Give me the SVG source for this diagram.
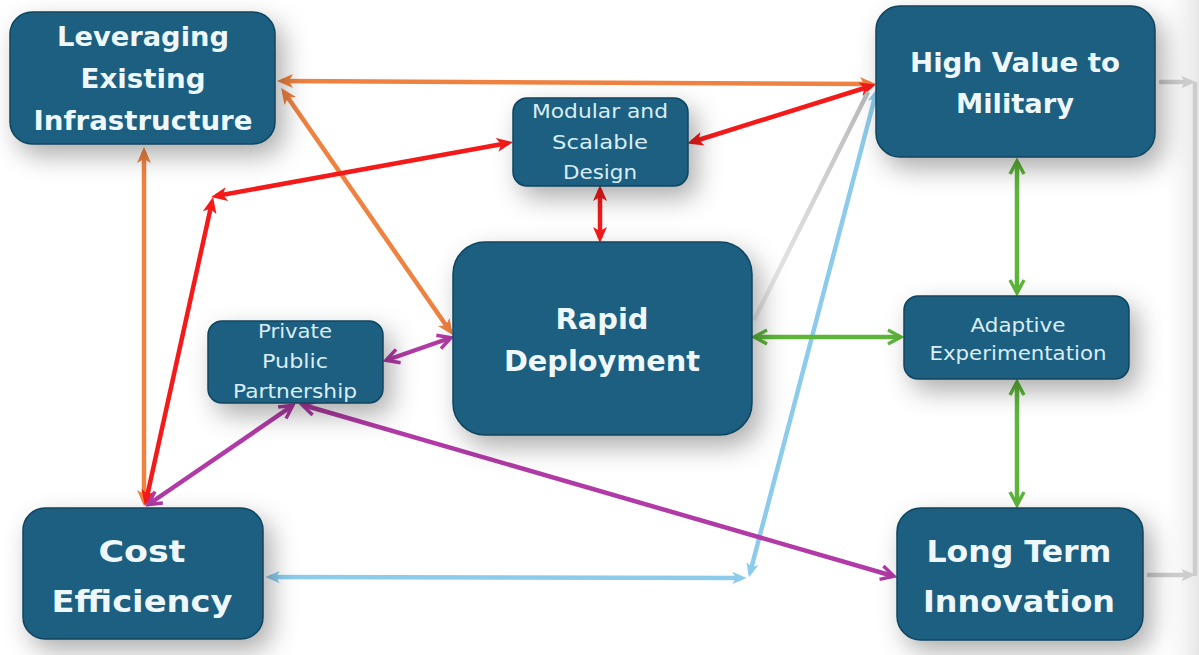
<svg xmlns="http://www.w3.org/2000/svg" width="1199" height="655" viewBox="0 0 1199 655">
<style>
.node rect{fill:#1a5e80;stroke:#11455f;stroke-width:1.5;filter:url(#sh)}
.bt{font-family:"DejaVu Sans","Liberation Sans",sans-serif;font-weight:bold;fill:#eef7fb;text-anchor:middle}
.rt{font-family:"DejaVu Sans","Liberation Sans",sans-serif;fill:#d9eef7;text-anchor:middle}
.c line,.c path{fill:none;stroke-width:4.5;stroke-linecap:butt}
.or{stroke:#ef8240}.rd{stroke:#f51a1a}.gr{stroke:#5db53a}.pu{stroke:#b13aa6}.bl{stroke:#8ccbeb}.gy{stroke:#cdcdcd}
</style>
<defs>
<filter id="sh" x="-40%" y="-40%" width="190%" height="200%"><feDropShadow dx="8" dy="11" stdDeviation="13" flood-color="#000" flood-opacity="0.32"/></filter>
<marker id="mOr" markerUnits="userSpaceOnUse" viewBox="0 0 16 16" refX="11" refY="8" markerWidth="16" markerHeight="16" orient="auto-start-reverse"><path d="M0,1 L16,8 L0,15 L4,8 z" fill="#ef8240"/></marker>
<marker id="mRd" markerUnits="userSpaceOnUse" viewBox="0 0 16 16" refX="11" refY="8" markerWidth="16" markerHeight="16" orient="auto-start-reverse"><path d="M0,1 L16,8 L0,15 L4,8 z" fill="#f51a1a"/></marker>
<marker id="mBl" markerUnits="userSpaceOnUse" viewBox="0 0 16 16" refX="11" refY="8" markerWidth="14" markerHeight="14" orient="auto-start-reverse"><path d="M0,1 L16,8 L0,15 L4,8 z" fill="#8ccbeb"/></marker>
<marker id="mGr" markerUnits="userSpaceOnUse" viewBox="0 0 18 18" refX="14" refY="9" markerWidth="18" markerHeight="18" orient="auto-start-reverse"><path d="M2,2 L15,9 L2,16" fill="none" stroke="#5db53a" stroke-width="3.5"/></marker>
<marker id="mPu" markerUnits="userSpaceOnUse" viewBox="0 0 18 18" refX="14" refY="9" markerWidth="18" markerHeight="18" orient="auto-start-reverse"><path d="M2,2 L15,9 L2,16" fill="none" stroke="#b13aa6" stroke-width="3.5"/></marker>
<marker id="mGy" markerUnits="userSpaceOnUse" viewBox="0 0 16 16" refX="11" refY="8" markerWidth="14" markerHeight="14" orient="auto-start-reverse"><path d="M0,1 L16,8 L0,15 L4,8 z" fill="#cdcdcd"/></marker>
<linearGradient id="gfade" x1="868" y1="92" x2="752" y2="322" gradientUnits="userSpaceOnUse"><stop offset="0" stop-color="#b8b8b8"/><stop offset="1" stop-color="#d8d8d8" stop-opacity="0.5"/></linearGradient>
<linearGradient id="edge" x1="0" y1="0" x2="1" y2="0"><stop offset="0" stop-color="#f2f2f2" stop-opacity="0"/><stop offset="1" stop-color="#e6e6e6"/></linearGradient>
</defs>
<rect width="1199" height="655" fill="#ffffff"/>
<rect x="1165" y="0" width="34" height="655" fill="url(#edge)"/>

<g id="connectors" class="c">
<line class="or" x1="282" y1="81" x2="871" y2="84" marker-start="url(#mOr)" marker-end="url(#mOr)"/>
<line class="or" x1="284" y1="92" x2="450" y2="331" marker-start="url(#mOr)" marker-end="url(#mOr)"/>
<line class="or" x1="144" y1="152" x2="144" y2="501" marker-start="url(#mOr)" marker-end="url(#mOr)"/>
<line class="rd" x1="146" y1="501" x2="212" y2="202" marker-start="url(#mRd)" marker-end="url(#mRd)"/>
<line class="rd" x1="216" y1="196" x2="508" y2="143" marker-start="url(#mRd)" marker-end="url(#mRd)"/>
<line class="rd" x1="692" y1="142" x2="871" y2="86" marker-start="url(#mRd)" marker-end="url(#mRd)"/>
<line class="rd" x1="600" y1="190" x2="600" y2="238" marker-start="url(#mRd)" marker-end="url(#mRd)"/>
<line x1="868" y1="92" x2="754" y2="320" stroke="url(#gfade)" stroke-width="4"/>
<line class="bl" x1="876" y1="93" x2="750" y2="573" marker-start="url(#mBl)" marker-end="url(#mBl)"/>
<line class="bl" x1="270" y1="577" x2="742" y2="578" marker-start="url(#mBl)" marker-end="url(#mBl)"/>
<line class="gr" x1="1017" y1="162" x2="1017" y2="292" marker-start="url(#mGr)" marker-end="url(#mGr)"/>
<line class="gr" x1="1017" y1="383" x2="1017" y2="504" marker-start="url(#mGr)" marker-end="url(#mGr)"/>
<line class="gr" x1="755" y1="337" x2="900" y2="337" marker-start="url(#mGr)" marker-end="url(#mGr)"/>
<line class="pu" x1="387" y1="360" x2="450" y2="338" marker-start="url(#mPu)" marker-end="url(#mPu)"/>
<line class="pu" x1="149" y1="504" x2="292" y2="406" marker-start="url(#mPu)" marker-end="url(#mPu)"/>
<line class="pu" x1="303" y1="405" x2="893" y2="576" marker-start="url(#mPu)" marker-end="url(#mPu)"/>
<line class="gy" x1="1159" y1="82" x2="1191" y2="82" stroke-width="3" marker-end="url(#mGy)"/>
<line class="gy" x1="1195" y1="82" x2="1195" y2="576" stroke-width="3"/>
<line class="gy" x1="1147" y1="575" x2="1191" y2="575" stroke-width="3" marker-end="url(#mGy)"/>
</g>

<g id="leveraging" class="node">
<rect x="10" y="12" width="265" height="132" rx="22"/>
<text class="bt" font-size="27" x="143" y="46" textLength="172" lengthAdjust="spacingAndGlyphs">Leveraging</text>
<text class="bt" font-size="27" x="143" y="88" textLength="125" lengthAdjust="spacingAndGlyphs">Existing</text>
<text class="bt" font-size="27" x="143" y="130" textLength="219" lengthAdjust="spacingAndGlyphs">Infrastructure</text>
</g>
<g id="modular" class="node">
<rect x="513" y="98" width="175" height="88" rx="14"/>
<text class="rt" font-size="19" x="600" y="118" textLength="136" lengthAdjust="spacingAndGlyphs">Modular and</text>
<text class="rt" font-size="19" x="600" y="149" textLength="96" lengthAdjust="spacingAndGlyphs">Scalable</text>
<text class="rt" font-size="19" x="600" y="179" textLength="74" lengthAdjust="spacingAndGlyphs">Design</text>
</g>
<g id="highvalue" class="node">
<rect x="876" y="6" width="279" height="151" rx="24"/>
<text class="bt" font-size="27" x="1015" y="72" textLength="210" lengthAdjust="spacingAndGlyphs">High Value to</text>
<text class="bt" font-size="27" x="1015" y="113" textLength="118" lengthAdjust="spacingAndGlyphs">Military</text>
</g>
<g id="rapid" class="node">
<rect x="453" y="242" width="299" height="193" rx="32"/>
<text class="bt" font-size="28" x="602" y="329" textLength="93" lengthAdjust="spacingAndGlyphs">Rapid</text>
<text class="bt" font-size="28" x="602" y="371" textLength="196" lengthAdjust="spacingAndGlyphs">Deployment</text>
</g>
<g id="ppp" class="node">
<rect x="208" y="321" width="175" height="82" rx="14"/>
<text class="rt" font-size="19" x="295" y="338" textLength="74" lengthAdjust="spacingAndGlyphs">Private</text>
<text class="rt" font-size="19" x="295" y="368" textLength="66" lengthAdjust="spacingAndGlyphs">Public</text>
<text class="rt" font-size="19" x="295" y="398" textLength="124" lengthAdjust="spacingAndGlyphs">Partnership</text>
</g>
<g id="adaptive" class="node">
<rect x="904" y="296" width="225" height="83" rx="14"/>
<text class="rt" font-size="19" x="1018" y="332" textLength="95" lengthAdjust="spacingAndGlyphs">Adaptive</text>
<text class="rt" font-size="19" x="1018" y="360" textLength="177" lengthAdjust="spacingAndGlyphs">Experimentation</text>
</g>
<g id="cost" class="node">
<rect x="23" y="508" width="240" height="131" rx="22"/>
<text class="bt" font-size="31" x="142" y="562" textLength="87" lengthAdjust="spacingAndGlyphs">Cost</text>
<text class="bt" font-size="31" x="142" y="612" textLength="181" lengthAdjust="spacingAndGlyphs">Efficiency</text>
</g>
<g id="longterm" class="node">
<rect x="897" y="508" width="246" height="132" rx="24"/>
<text class="bt" font-size="31" x="1019" y="562" textLength="185" lengthAdjust="spacingAndGlyphs">Long Term</text>
<text class="bt" font-size="31" x="1019" y="612" textLength="192" lengthAdjust="spacingAndGlyphs">Innovation</text>
</g>
</svg>
